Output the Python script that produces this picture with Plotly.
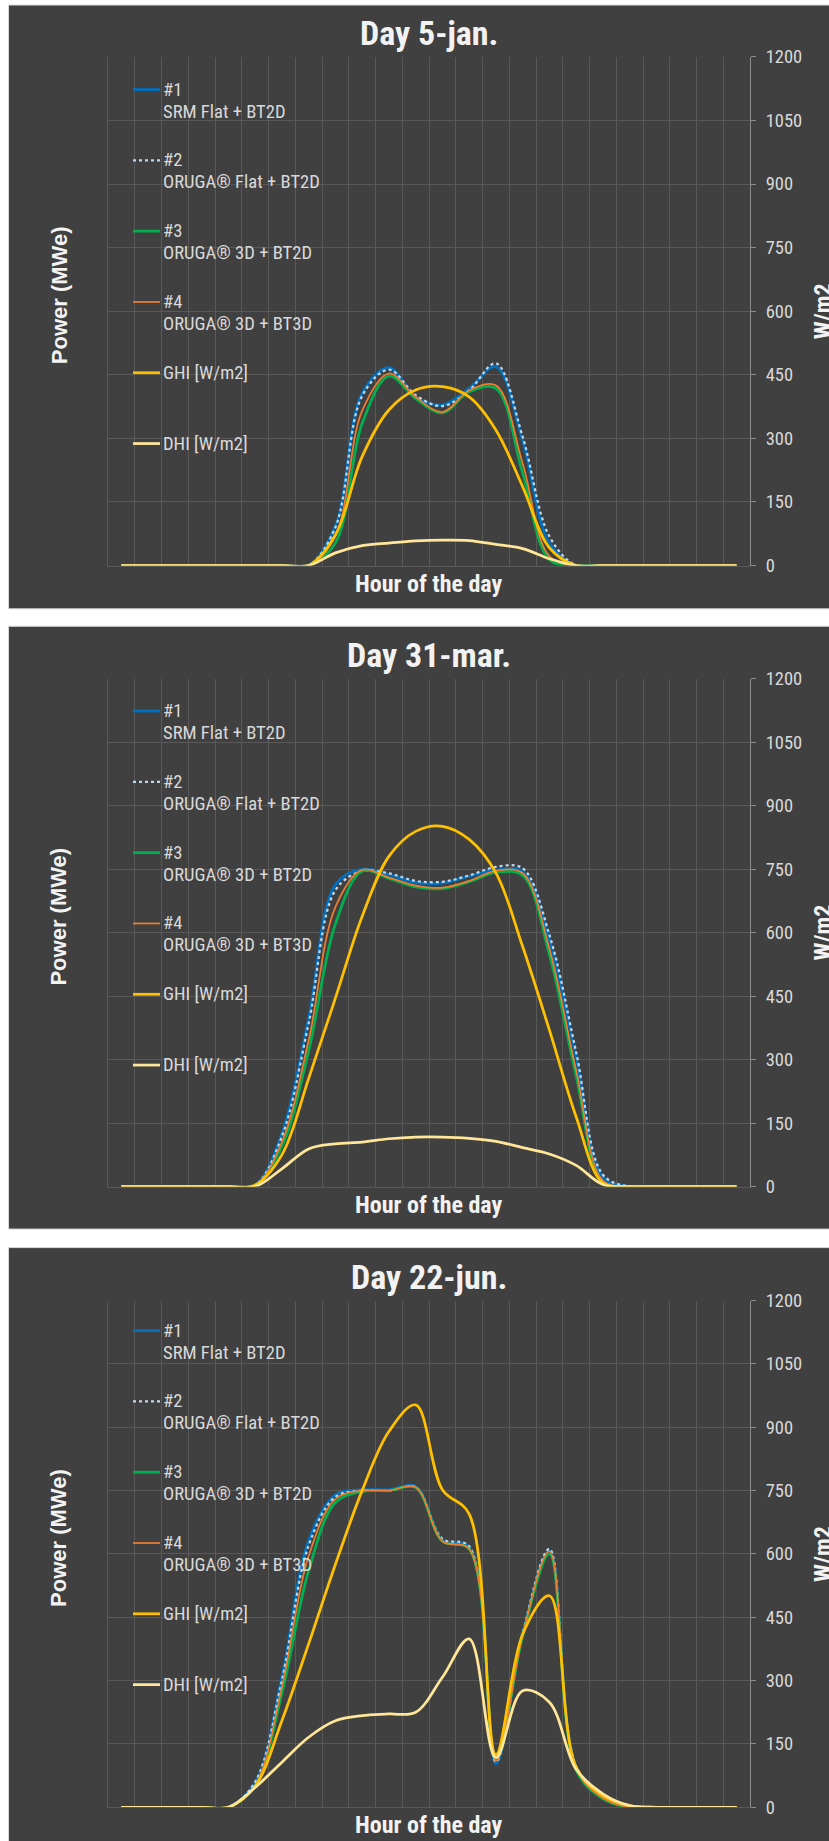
import plotly.graph_objects as go

# ---------------------------------------------------------------- data
hours = list(range(24))

day_titles = ["Day 5-jan.", "Day 31-mar.", "Day 22-jun."]

series_labels = [
    ("#1", "SRM Flat + BT2D"),
    ("#2", "ORUGA® Flat + BT2D"),
    ("#3", "ORUGA® 3D + BT2D"),
    ("#4", "ORUGA® 3D + BT3D"),
    ("GHI [W/m2]", ""),
    ("DHI [W/m2]", ""),
]
series_colors = ["#0070C0", "#BDD7EE", "#00B050", "#ED7D31", "#FFC000", "#FFE699"]
series_dash = ["solid", "dot", "solid", "solid", "solid", "solid"]
series_width = [2.75, 2.25, 2.75, 1.75, 2.75, 2.75]

wm2_ticks = [0, 150, 300, 450, 600, 750, 900, 1050, 1200]

# 5 January
jan_srm_flat_bt2d   = [0, 0, 0, 0, 0, 0, 0, 0, 93, 406, 467, 398, 379, 418, 469, 296, 53, 0, 0, 0, 0, 0, 0, 0]
jan_oruga_flat_bt2d = [0, 0, 0, 0, 0, 0, 0, 0, 90, 400, 462, 402, 376, 413, 477, 304, 69, 0, 0, 0, 0, 0, 0, 0]
jan_oruga_3d_bt2d   = [0, 0, 0, 0, 0, 0, 0, 0, 53, 335, 447, 394, 360, 410, 418, 218, 14, 0, 0, 0, 0, 0, 0, 0]
jan_oruga_3d_bt3d   = [0, 0, 0, 0, 0, 0, 0, 0, 69, 365, 453, 398, 362, 413, 425, 241, 22, 0, 0, 0, 0, 0, 0, 0]
jan_ghi             = [0, 0, 0, 0, 0, 0, 0, 0, 72, 257, 367, 414, 422, 398, 320, 186, 42, 0, 0, 0, 0, 0, 0, 0]
jan_dhi             = [0, 0, 0, 0, 0, 0, 0, 0, 30, 47, 53, 58, 60, 59, 50, 40, 16, 0, 0, 0, 0, 0, 0, 0]

# 31 March
mar_srm_flat_bt2d   = [0, 0, 0, 0, 0, 3, 125, 397, 713, 750, 737, 718, 717, 733, 748, 744, 583, 306, 22, 0, 0, 0, 0, 0]
mar_oruga_flat_bt2d = [0, 0, 0, 0, 0, 3, 118, 385, 700, 745, 740, 722, 720, 735, 755, 752, 595, 318, 28, 0, 0, 0, 0, 0]
mar_oruga_3d_bt2d   = [0, 0, 0, 0, 0, 2, 95, 320, 620, 745, 728, 708, 704, 720, 742, 735, 548, 262, 10, 0, 0, 0, 0, 0]
mar_oruga_3d_bt3d   = [0, 0, 0, 0, 0, 2, 105, 345, 660, 748, 730, 711, 706, 722, 746, 740, 562, 275, 14, 0, 0, 0, 0, 0]
mar_ghi             = [0, 0, 0, 0, 0, 4, 75, 255, 445, 638, 780, 839, 851, 820, 741, 567, 370, 165, 8, 0, 0, 0, 0, 0]
mar_dhi             = [0, 0, 0, 0, 0, 0, 42, 89, 101, 105, 113, 117, 117, 114, 107, 92, 77, 50, 5, 0, 0, 0, 0, 0]

# 22 June
jun_srm_flat_bt2d   = [0, 0, 0, 0, 0, 58, 308, 632, 740, 752, 752, 760, 633, 616, 103, 410, 608, 95, 28, 2, 0, 0, 0, 0]
jun_oruga_flat_bt2d = [0, 0, 0, 0, 0, 60, 300, 620, 735, 750, 750, 758, 636, 618, 108, 412, 612, 97, 28, 2, 0, 0, 0, 0]
jun_oruga_3d_bt2d   = [0, 0, 0, 0, 0, 50, 270, 560, 722, 748, 750, 757, 630, 612, 112, 405, 600, 88, 20, 0, 0, 0, 0, 0]
jun_oruga_3d_bt3d   = [0, 0, 0, 0, 0, 52, 285, 595, 730, 750, 750, 758, 630, 612, 110, 408, 606, 92, 22, 0, 0, 0, 0, 0]
jun_ghi             = [0, 0, 0, 0, 0, 50, 205, 387, 575, 750, 890, 953, 752, 695, 125, 410, 501, 95, 28, 4, 0, 0, 0, 0]
jun_dhi             = [0, 0, 0, 0, 0, 47, 107, 166, 205, 217, 221, 225, 308, 399, 118, 276, 249, 90, 32, 4, 0, 0, 0, 0]

days = [
    [jan_srm_flat_bt2d, jan_oruga_flat_bt2d, jan_oruga_3d_bt2d, jan_oruga_3d_bt3d, jan_ghi, jan_dhi],
    [mar_srm_flat_bt2d, mar_oruga_flat_bt2d, mar_oruga_3d_bt2d, mar_oruga_3d_bt3d, mar_ghi, mar_dhi],
    [jun_srm_flat_bt2d, jun_oruga_flat_bt2d, jun_oruga_3d_bt2d, jun_oruga_3d_bt3d, jun_ghi, jun_dhi],
]

# ---------------------------------------------------------------- layout geometry (pixels)
W, H = 829, 1841
PLOT_X0, PLOT_X1 = 108, 750
PLOT_Y = [(56.3, 565.0), (678.0, 1186.0), (1300.0, 1806.7)]      # top, bottom of each plot area
PANEL_Y = [(4.5, 608.3), (625.7, 1228.5), (1247.0, 1880.0)]       # dark card behind each chart
LEGEND_FIRST = [89.0, 710.5, 1330.0]
LEGEND_STEP = 70.8

# the page body adds a small top offset and the capture is fitted to the window height
PAGE_FIT = 0.988
PAGE_TOP = 10.6

PANEL_BG = "#404040"
GRID = "#595959"
AXIS = "#8C8C8C"
TEXT = "#D9D9D9"
TITLE = "#F2F2F2"
NARROW = "Liberation Sans Narrow, Arial Narrow, Roboto Condensed, DejaVu Sans Condensed, sans-serif"
WIDE = "Liberation Sans, Arial, sans-serif"


def fx(x):
    return x / W


def fy(y):
    y_fig = (y - PAGE_TOP * PAGE_FIT) / PAGE_FIT
    return 1 - y_fig / H


def label(text, x, y, size, family, color, xanchor="center", bold=False, angle=0):
    return dict(text=text, xref="paper", yref="paper", x=fx(x), y=fy(y),
                xanchor=xanchor, yanchor="middle", showarrow=False, textangle=angle,
                font=dict(family=family, size=size, color=color,
                          weight="bold" if bold else "normal"))


fig = go.Figure()
layout = dict(
    width=W, height=H,
    margin=dict(l=0, r=0, t=0, b=0),
    paper_bgcolor="white",
    plot_bgcolor="rgba(0,0,0,0)",
    showlegend=False,
)
shapes, annotations = [], []

for p, series in enumerate(days):
    xname = "x" if p == 0 else f"x{p + 1}"
    yl = f"y{2 * p + 1}" if p else "y"
    yr = f"y{2 * p + 2}"
    top, bottom = PLOT_Y[p]

    layout["xaxis" if p == 0 else f"xaxis{p + 1}"] = dict(
        domain=[fx(PLOT_X0), fx(PLOT_X1)], anchor=yl,
        range=[-0.5, 23.5], tick0=-0.5, dtick=1,
        showgrid=True, gridcolor=GRID, gridwidth=1,
        showticklabels=False, ticks="", zeroline=False,
        showline=True, linecolor=GRID, linewidth=1,
    )
    layout["yaxis" if p == 0 else f"yaxis{2 * p + 1}"] = dict(
        domain=[fy(bottom), fy(top)], anchor=xname,
        range=[0, 1200], tick0=0, dtick=150,
        showgrid=True, gridcolor=GRID, gridwidth=1,
        showticklabels=False, ticks="", zeroline=False,
        showline=True, linecolor=GRID, linewidth=1,
    )
    layout[f"yaxis{2 * p + 2}"] = dict(
        overlaying=yl, side="right", anchor=xname,
        range=[0, 1200], tickvals=wm2_ticks,
        showgrid=False, zeroline=False,
        showline=True, linecolor=AXIS, linewidth=1,
        ticks="outside", ticklen=5, tickcolor=AXIS, tickwidth=1,
        ticklabelstandoff=6,
        tickfont=dict(family=NARROW, size=18.5, color=TEXT),
    )

    for s, values in enumerate(series):
        fig.add_trace(go.Scatter(
            x=hours, y=values,
            xaxis=xname, yaxis=(yl if s < 4 else yr),
            mode="lines", hoverinfo="skip",
            line=dict(color=series_colors[s], width=series_width[s],
                      dash=series_dash[s], shape="spline", smoothing=1),
        ))

    # dark card
    p_top, p_bot = PANEL_Y[p]
    shapes.append(dict(type="rect", xref="paper", yref="paper", layer="below",
                       x0=fx(8.5), x1=fx(845), y0=fy(p_bot), y1=fy(p_top),
                       fillcolor=PANEL_BG, line=dict(color="#D9D9D9", width=1)))

    mid = (top + bottom) / 2
    cx = (PLOT_X0 + PLOT_X1) / 2
    annotations += [
        label(day_titles[p], cx, top - 24, 34, NARROW, TITLE, bold=True),
        label("Hour of the day", cx, bottom + 18, 24, NARROW, TITLE, bold=True),
        label("Power (MWe)", 59, mid - 16, 22, WIDE, TITLE, bold=True, angle=-90),
        label("W/m2", 823, mid, 24, NARROW, TITLE, bold=True, angle=-90),
    ]

    # legend, stacked on the left of the plot area
    for s, (line1, line2) in enumerate(series_labels):
        ly = LEGEND_FIRST[p] + s * LEGEND_STEP
        shapes.append(dict(type="line", xref="paper", yref="paper", layer="above",
                           x0=fx(133), x1=fx(160), y0=fy(ly), y1=fy(ly),
                           line=dict(color=series_colors[s], width=series_width[s],
                                     dash=series_dash[s])))
        for k, txt in enumerate([line1, line2]):
            if txt:
                annotations.append(label(txt, 161, ly + 22 * k, 18.6, NARROW, TEXT,
                                         xanchor="left"))

layout["shapes"] = shapes
layout["annotations"] = annotations
fig.update_layout(**layout)

fig.write_html("out.html")
